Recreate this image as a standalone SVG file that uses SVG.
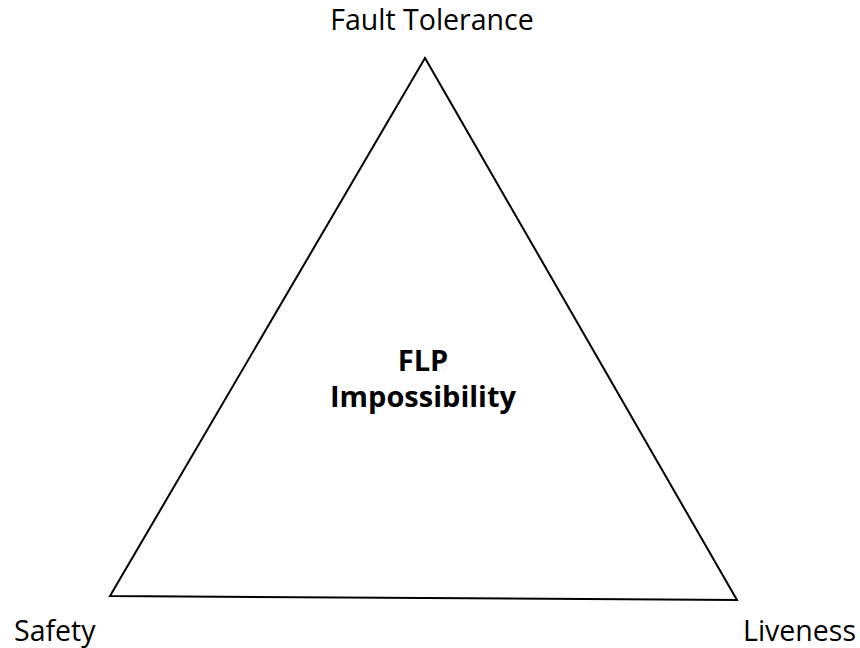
<svg xmlns="http://www.w3.org/2000/svg" width="860" height="648" viewBox="0 0 860 648">
<style>
.lbl{font-family:"Open Sans","Liberation Sans",sans-serif;font-size:28.5px;fill:#000}
.c{font-family:"Open Sans","Liberation Sans",sans-serif;font-size:29px;font-weight:bold;fill:#000;text-anchor:middle}
</style>
<rect width="860" height="648" fill="#fff"/>
<g id="connectors">
<polygon points="425,58 110,596 737,600" fill="none" stroke="#000" stroke-width="2" stroke-linejoin="miter"/>
</g>
<g id="fault-tolerance"><text class="lbl" x="432" y="30" text-anchor="middle">Fault Tolerance</text></g>
<g id="safety"><text class="lbl" x="14" y="641">Safety</text></g>
<g id="liveness"><text class="lbl" x="856" y="641" text-anchor="end">Liveness</text></g>
<g id="flp"><text class="c" x="423" y="371">FLP</text><text class="c" x="423" y="407">Impossibility</text></g>
</svg>
